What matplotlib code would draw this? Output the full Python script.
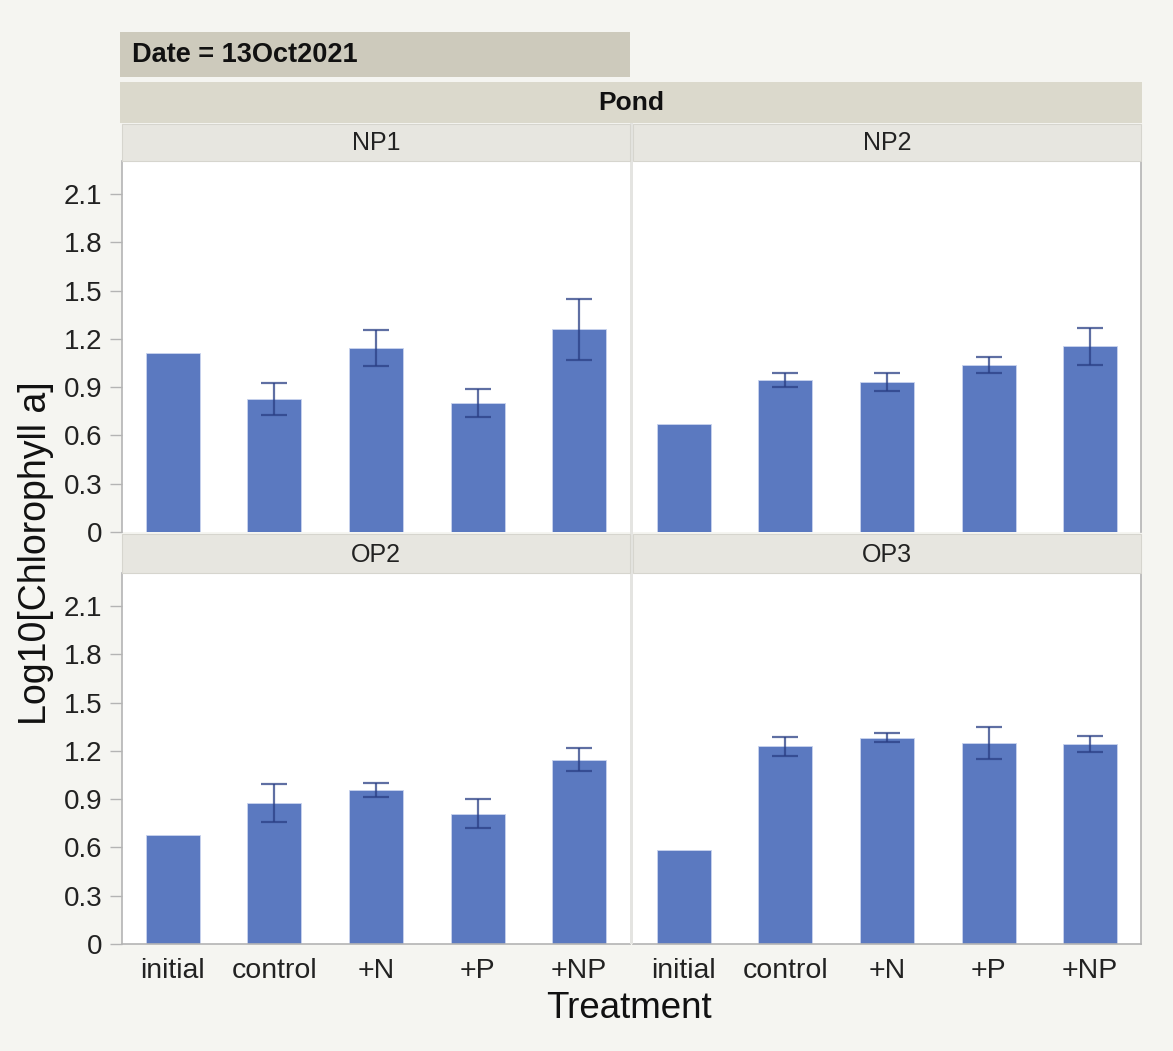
import matplotlib
matplotlib.use("Agg")
import matplotlib.pyplot as plt
from matplotlib.patches import Rectangle
import numpy as np

plt.rcParams['font.family'] = ['Liberation Sans', 'DejaVu Sans']

treatments = ["initial", "control", "+N", "+P", "+NP"]
ponds = ["NP1", "NP2", "OP2", "OP3"]
means_NP1 = [1.11, 0.827, 1.145, 0.800, 1.259]
errs_NP1 = [None, 0.10, 0.113, 0.086, 0.188]
means_NP2 = [0.669, 0.945, 0.930, 1.036, 1.153]
errs_NP2 = [None, 0.045, 0.057, 0.049, 0.116]
means_OP2 = [0.675, 0.877, 0.957, 0.810, 1.145]
errs_OP2 = [None, 0.116, 0.043, 0.089, 0.073]
means_OP3 = [0.586, 1.229, 1.282, 1.248, 1.242]
errs_OP3 = [None, 0.059, 0.029, 0.098, 0.049]
yticks = [0, 0.3, 0.6, 0.9, 1.2, 1.5, 1.8, 2.1]
ytick_labels = ["0", "0.3", "0.6", "0.9", "1.2", "1.5", "1.8", "2.1"]

data = {"NP1": (means_NP1, errs_NP1), "NP2": (means_NP2, errs_NP2),
        "OP2": (means_OP2, errs_OP2), "OP3": (means_OP3, errs_OP3)}

W, H = 1173, 1051
fig = plt.figure(figsize=(W / 100, H / 100), dpi=100)
fig.patch.set_facecolor('#f5f5f1')

def fx(px):
    return px / W

def fy(py):
    return 1 - py / H

def frect(x0, y0, x1, y1, color, ec=None, lw=0):
    r = Rectangle((fx(x0), fy(y1)), fx(x1) - fx(x0), fy(y0) - fy(y1),
                  transform=fig.transFigure, facecolor=color,
                  edgecolor=ec if ec else color, linewidth=lw, zorder=0)
    fig.patches.append(r)

BAR = '#5b79c0'
ERR = '#2a3f85'
SPINE = '#b4b4b4'

# header strips
frect(120, 32, 630, 77, '#cdcabc')
fig.text(fx(132), fy(55), "Date = 13Oct2021", fontsize=19.5, fontweight='bold',
         ha='left', va='center', color='#111111')
frect(120, 82, 1142, 123, '#dbd9cc')
fig.text(fx(631), fy(103), "Pond", fontsize=19, fontweight='bold',
         ha='center', va='center', color='#111111')

col_x = [(122, 630), (633, 1141)]
row_y = [((124, 161), (161, 532)), ((534, 573), (573, 944))]

# gap line between columns
frect(630, 123, 633, 944, '#e4e4e1')

for i, pond in enumerate(ponds):
    r, c = divmod(i, 2)
    x0, x1 = col_x[c]
    (s0, s1), (p0, p1) = row_y[r]
    frect(x0, s0, x1, s1, '#e7e6e0', ec='#d6d5ce', lw=0.8)
    fig.text(fx((x0 + x1) / 2), fy((s0 + s1) / 2 + 1), pond, fontsize=18,
             ha='center', va='center', color='#222222')
    ax = fig.add_axes([fx(x0), fy(p1), fx(x1) - fx(x0), fy(p0) - fy(p1)])
    ax.set_facecolor('white')
    means, errs = data[pond]
    xs = np.arange(len(treatments))
    ax.bar(xs, means, width=0.53, color=BAR, edgecolor='#c9d3ee', linewidth=0.6, zorder=2)
    ex = [x for x, e in zip(xs, errs) if e is not None]
    em = [m for m, e in zip(means, errs) if e is not None]
    ee = [e for e in errs if e is not None]
    ax.errorbar(ex, em, yerr=ee, fmt='none', ecolor=ERR, alpha=0.75,
                elinewidth=1.6, capsize=9.5, capthick=1.6, zorder=3)
    ax.set_xlim(-0.5, len(treatments) - 0.5)
    ax.set_ylim(0, 2.305)
    ax.set_yticks(yticks)
    for sp in ax.spines.values():
        sp.set_visible(False)
    ax.spines['left'].set_visible(c == 0)
    ax.spines['left'].set_color(SPINE)
    ax.spines['right'].set_visible(c == 1)
    ax.spines['right'].set_color(SPINE)
    ax.spines['bottom'].set_visible(r == 1)
    ax.spines['bottom'].set_color(SPINE)
    ax.spines['left'].set_linewidth(1.2)
    ax.spines['right'].set_linewidth(1.2)
    ax.spines['bottom'].set_linewidth(1.2)
    if c == 0:
        ax.set_yticklabels(ytick_labels, fontsize=20, color='#222222')
        ax.tick_params(axis='y', length=9, width=1, color=SPINE, pad=5)
    else:
        ax.tick_params(axis='y', length=0, labelleft=False)
    ax.set_xticks(xs)
    if r == 1:
        ax.set_xticklabels(treatments, fontsize=20.5, color='#222222')
        ax.tick_params(axis='x', length=0, pad=10)
    else:
        ax.tick_params(axis='x', length=0, labelbottom=False)

fig.text(fx(629), fy(1009), "Treatment", fontsize=26.5, ha='center', va='center', color='#111111')
fig.text(fx(36), fy(553), "Log10[Chlorophyll a]", fontsize=27, rotation=90,
         ha='center', va='center', color='#111111')

fig.savefig("out.png", dpi=100, facecolor=fig.get_facecolor())
